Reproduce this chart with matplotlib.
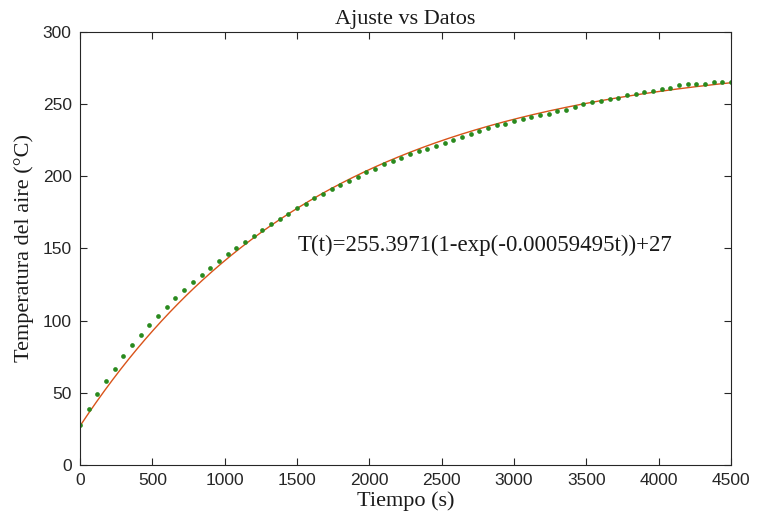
import numpy as np
import matplotlib
matplotlib.use("Agg")
import matplotlib.pyplot as plt

# datos medidos (cada 60 s)
tiempo = np.arange(0, 4501, 60)
temp_aire = [27.7, 38.8, 49.0, 58.4, 66.8, 75.3, 82.9, 90.1, 97.0, 103.2,
             109.5, 115.5, 121.0, 126.6, 131.6, 136.5, 141.3, 146.2, 150.6, 154.7,
             158.9, 162.8, 167.0, 170.5, 174.1, 177.8, 181.1, 184.8, 188.0, 191.0,
             194.0, 197.0, 199.8, 203.2, 205.3, 208.3, 210.4, 212.5, 215.5, 217.3,
             219.2, 221.2, 223.3, 225.4, 227.3, 229.3, 231.4, 233.3, 235.4, 236.5,
             238.3, 239.7, 241.3, 242.3, 243.4, 245.3, 246.2, 248.3, 250.3, 251.3,
             252.2, 253.4, 254.5, 256.4, 257.3, 258.4, 259.3, 260.3, 261.4, 263.3,
             264.2, 264.2, 264.2, 265.1, 265.3, 265.1]

# parametros del ajuste
A = 255.3971
k = 0.00059495
T0 = 27
etiqueta = 'T(t)=255.3971(1-exp(-0.00059495t))+27'

t_fit = np.linspace(0, 4500, 400)
T_fit = A * (1 - np.exp(-k * t_fit)) + T0

serif = 'Liberation Serif'
plt.rcParams['font.family'] = 'Liberation Sans'

fig = plt.figure(figsize=(7.57, 5.25), dpi=100)
ax = fig.add_axes([0.1057, 0.1143, 0.86, 0.8248])

ax.plot(t_fit, T_fit, color='#D95319', lw=1.0)
ax.plot(tiempo, temp_aire, 'o', color='#2A8A1E', ms=3.4, mec='none')

ax.text(1507, 152.4, etiqueta, fontsize=16.5, family=serif, va='center', ha='left', color='#1a1a1a')

ax.set_xlim(0, 4500)
ax.set_ylim(0, 300)
ax.set_xticks(np.arange(0, 4501, 500))
ax.set_yticks(np.arange(0, 301, 50))
ax.tick_params(direction='in', top=True, right=True, length=5, width=0.8,
               colors='#262626', labelsize=12.5, pad=6)
for s in ax.spines.values():
    s.set_color('#262626')
    s.set_linewidth(0.8)

ax.set_title('Ajuste vs Datos', fontsize=16, family=serif, color='#1a1a1a', pad=6)
ax.set_xlabel('Tiempo (s)', fontsize=16, family=serif, color='#1a1a1a', labelpad=2)
ax.set_ylabel('Temperatura del aire (°C)', fontsize=16, family=serif, color='#1a1a1a', labelpad=6)

fig.savefig('out.png', dpi=100)
